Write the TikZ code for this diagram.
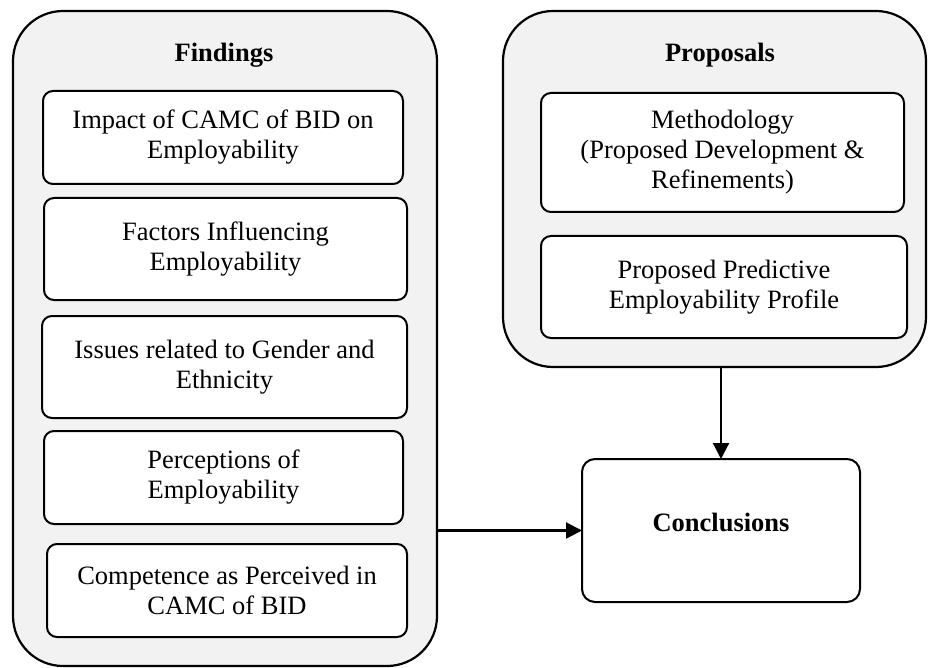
\documentclass[tikz,border=0pt]{standalone}
\usepackage{fontspec}
\setmainfont{Liberation Serif}
\usetikzlibrary{arrows.meta}
\definecolor{panelgray}{RGB}{242,242,242}
\begin{document}
\begin{tikzpicture}[x=1pt,y=-1pt,
  panel/.style={draw, line width=2.2pt, fill=panelgray, rounded corners=50pt,
    inner sep=0pt, outer sep=0pt},
  item/.style={draw, line width=2pt, fill=white, rounded corners=10pt,
    inner sep=0pt, outer sep=0pt, align=center,
    font=\fontsize{26.5}{30}\selectfont},
  heading/.style={font=\fontsize{26.5}{30}\selectfont\bfseries, inner sep=0pt, anchor=base},
  arr/.style={line width=2.2pt, -{Triangle[length=16pt,width=16pt]}}]
\useasboundingbox (0,0) rectangle (928,668);

% outer panels
\node[panel, minimum width=424pt, minimum height=655pt] (findings) at (225,338.5) {};
\node[panel, minimum width=423pt, minimum height=356pt] (proposals) at (714.5,189) {};

% panel headings
\node[heading] (findingsT) at (224,62) {Findings};
\node[heading] (proposalsT) at (720,62) {Proposals};

% findings items
\node[item, minimum width=360pt, minimum height=93pt] (f1) at (223,137.5)
  {Impact of CAMC of BID on\\Employability};
\node[item, minimum width=363pt, minimum height=102pt] (f2) at (225.5,249)
  {Factors Influencing\\Employability};
\node[item, minimum width=365pt, minimum height=102pt] (f3) at (224.5,367)
  {Issues related to Gender and\\Ethnicity};
\node[item, minimum width=359pt, minimum height=93pt] (f4) at (223.5,477.5)
  {Perceptions of\\Employability};
\node[item, minimum width=360pt, minimum height=93pt] (f5) at (227,590.5)
  {Competence as Perceived in\\CAMC of BID};

% proposal items
\node[item, minimum width=363pt, minimum height=119pt] (p1) at (722.5,152.5)
  {Methodology\\(Proposed Development \&\\Refinements)};
\node[item, minimum width=366pt, minimum height=102pt] (p2) at (724,287)
  {Proposed Predictive\\Employability Profile};

% conclusions
\node[item, rounded corners=13pt, minimum width=278pt, minimum height=143pt,
  font=\fontsize{26.5}{30}\selectfont\bfseries, text height=18pt, text depth=17pt]
  (conc) at (721,530.5) {Conclusions};

% connectors
\draw[arr] (conc.west -| findings.east) -- (conc.west);
\draw[arr] (conc.north |- proposals.south) -- (conc.north);
\end{tikzpicture}
\end{document}
